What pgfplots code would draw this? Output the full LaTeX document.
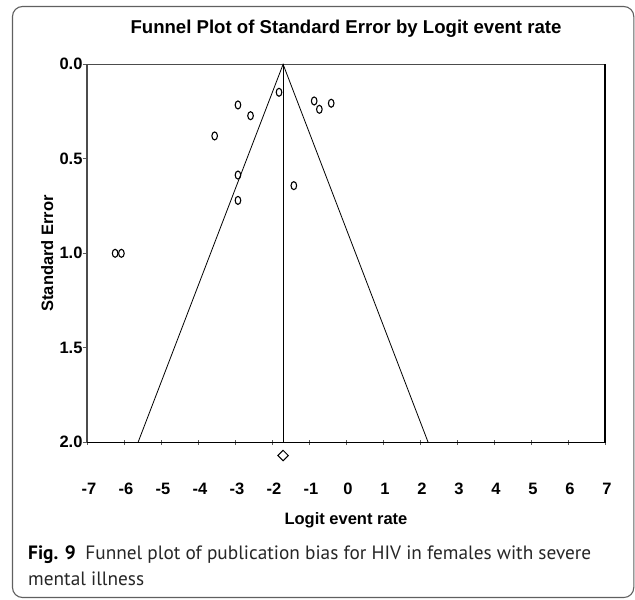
\documentclass[border=0pt]{standalone}
\usepackage{pgfplots}
\pgfplotsset{compat=1.18}
\usepackage{fontspec}
\setmainfont{Liberation Sans}
\newfontfamily\capfont{PT Sans}

% study estimates: logit event rate vs standard error
\pgfplotstableread{
x      se
-1.81  0.148
-2.92  0.215
-2.58  0.272
-3.55  0.379
-2.92  0.586
-2.92  0.720
-1.41  0.642
-0.86  0.194
-0.72  0.238
-0.40  0.206
-6.24  1.000
-6.07  1.000
}\studies

\begin{document}
\begin{tikzpicture}
% outer frame
\draw[gray!75!black, line width=1.1pt, rounded corners=10pt]
  (12.5pt,-6.5pt) rectangle (633.8pt,-597.5pt);

\begin{axis}[
  at={(87pt,-442.3pt)}, anchor=south west,
  scale only axis, width=518pt, height=378pt,
  xmin=-7, xmax=7, ymin=0, ymax=2,
  y dir=reverse,
  clip=false,
  axis line style={draw=none},
  xtick={-7,...,7},
  xticklabels={-7,-6,-5,-4,-3,-2,-1,0,1,2,3,4,5,6,7},
  ytick={0,0.5,1,1.5,2},
  yticklabels={0.0,0.5,1.0,1.5,2.0},
  x tick style={gray!70!black, line width=0.9pt},
  y tick style={gray!70!black, line width=0.9pt},
  major tick length=4.5pt,
  xtick align=center,
  ytick align=outside,
  tick pos=left,
  every tick label/.append style={font=\fontsize{16.5}{19}\selectfont\bfseries},
  xticklabel style={anchor=base, yshift=-50pt, xshift=2pt},
  yticklabel style={anchor=east, xshift=3.5pt},
  title={Funnel Plot of Standard Error by Logit event rate},
  title style={at={(axis description cs:0.5,1.0775)}, anchor=center,
    font=\fontsize{18.6}{21}\selectfont\bfseries},
  xlabel={Logit event rate},
  xlabel style={at={(axis description cs:0.5,-0.218)}, anchor=base,
    font=\fontsize{16.5}{19}\selectfont\bfseries},
  ylabel={Standard Error},
  ylabel style={at={(axis description cs:-0.077,0.5)}, anchor=center, rotate=0,
    font=\fontsize{16.5}{19}\selectfont\bfseries},
]
% frame: darker grey left and bottom, black top and right
\draw[gray!60!black, line width=1.2pt] (rel axis cs:0,0) -- (rel axis cs:0,1) -- (rel axis cs:1,1);
\draw[black, line width=1.2pt] (rel axis cs:0,0) -- (rel axis cs:1,0) -- (rel axis cs:1,1);

% funnel (pseudo 95% limits) and combined estimate
\addplot[black, line width=0.8pt] coordinates {(-5.62,2) (-1.70,0) (2.22,2)};
\addplot[black, line width=0.8pt] coordinates {(-1.70,0) (-1.70,2)};

\addplot[only marks, mark=o, mark size=4pt,
  mark options={xscale=0.7, line width=1.1pt, black}] table[x=x, y=se] {\studies};

\addplot[only marks, mark=square, mark size=3.7pt,
  mark options={rotate=45, line width=1pt, black}] coordinates {(-1.70,2.07)};
\end{axis}

\node[anchor=base west, inner sep=0pt, text=black!85, font=\capfont\fontsize{19.3}{23}\selectfont]
  at (28pt,-559.5pt) {\textbf{\color{black}Fig. 9}\enspace Funnel plot of publication bias for HIV in females with severe};
\node[anchor=base west, inner sep=0pt, text=black!85, font=\capfont\fontsize{19.3}{23}\selectfont]
  at (28pt,-585.5pt) {mental illness};

\pgfresetboundingbox
\path[use as bounding box] (0pt,0pt) rectangle (635pt,-600pt);
\end{tikzpicture}
\end{document}
